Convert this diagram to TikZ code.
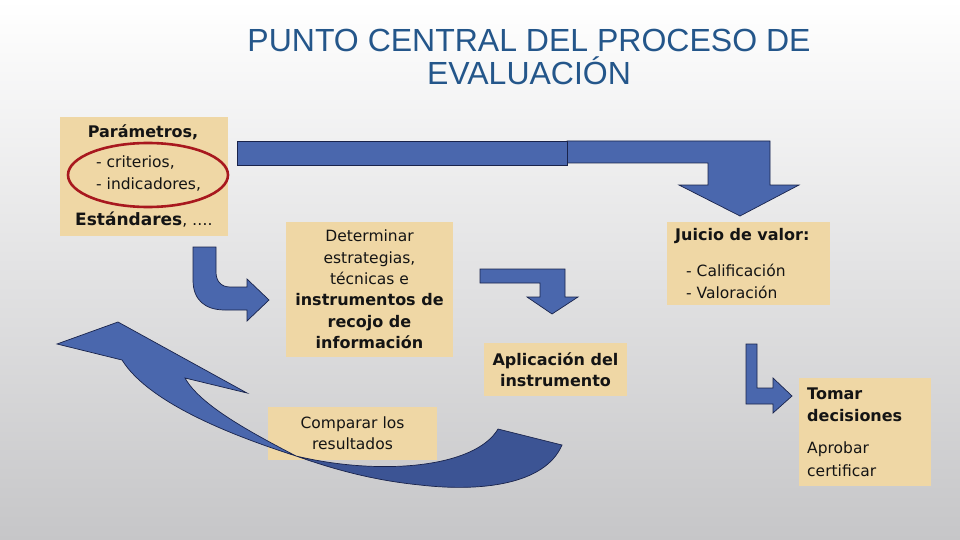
\documentclass[tikz,border=0pt]{standalone}
\usepackage{fontspec}
\setmainfont{DejaVu Sans}
\newfontfamily\titlefont{Liberation Sans}
\usetikzlibrary{shapes.geometric}
\definecolor{boxfill}{RGB}{239,215,165}
\definecolor{arrowblue}{RGB}{74,103,173}
\definecolor{arrowdark}{RGB}{60,84,148}
\definecolor{arrowline}{RGB}{25,35,75}
\definecolor{titleblue}{RGB}{36,86,138}
\definecolor{ringred}{RGB}{168,24,30}
\definecolor{bgbottom}{RGB}{198,198,200}
\definecolor{ink}{RGB}{20,20,20}
\tikzset{
  tanbox/.style={fill=boxfill, draw=none, inner sep=0pt},
  blockarrow/.style={fill=arrowblue, draw=arrowline, line width=0.7pt, line join=miter},
  darkarrow/.style={fill=arrowdark, draw=arrowline, line width=0.7pt, line join=miter},
  rt/.style={font=\fontsize{15.5}{21.4}\selectfont, text=ink, inner sep=0pt},
  bt/.style={font=\fontsize{16}{21.4}\selectfont\bfseries, text=ink, inner sep=0pt},
}
\begin{document}
\begin{tikzpicture}[x=1pt,y=-1pt]
\useasboundingbox (0,0) rectangle (960,540);
\fill[top color=white, bottom color=bgbottom] (0,0) rectangle (960,540);

% title
\node[font=\titlefont\fontsize{32}{33}\selectfont, text=titleblue, align=center, inner sep=0pt] (title) at (529,56.5)
  {PUNTO CENTRAL DEL PROCESO DE\\EVALUACIÓN};

% boxes
\node[tanbox, minimum width=168pt, minimum height=119pt] (param) at (144,176.5) {};
\node[bt] (p1) at (143,132) {Parámetros,};
\node[rt, anchor=west] (p2) at (96,163) {- criterios,};
\node[rt, anchor=west] (p3) at (96,185) {- indicadores,};
\node[inner sep=0pt, text=ink, anchor=west] (p4) at (75,220) {\fontsize{17}{20}\selectfont\bfseries Estándares\mdseries\fontsize{15.5}{20}\selectfont, ….};
\node[draw=ringred, line width=2.6pt, ellipse, minimum width=160pt, minimum height=64pt, inner sep=0pt] (ring) at (148,175) {};

\node[tanbox, minimum width=167pt, minimum height=135pt, align=center, rt] (estr) at (369.5,289.5)
  {Determinar\\estrategias,\\técnicas e\\\textbf{\fontsize{16}{21.4}\selectfont instrumentos de}\\\textbf{\fontsize{16}{21.4}\selectfont recojo de}\\\textbf{\fontsize{16}{21.4}\selectfont información}};

\node[tanbox, minimum width=163pt, minimum height=83pt] (juicio) at (748.5,263.5) {};
\node[bt, anchor=west] (j1) at (675,236) {Juicio de valor:};
\node[rt, anchor=west] (j2) at (686,270) {- Calificación};
\node[rt, anchor=west] (j3) at (686,292) {- Valoración};

\node[tanbox, minimum width=143pt, minimum height=53pt, align=center, bt] (aplic) at (555.5,369.5)
  {Aplicación del\\instrumento};

\node[tanbox, minimum width=169pt, minimum height=53pt, align=center, rt] (comp) at (352.5,433.5)
  {Comparar los\\resultados};

\node[tanbox, minimum width=132pt, minimum height=108pt] (tomar) at (865,432) {};
\node[bt, anchor=west] (t1) at (807,394) {Tomar};
\node[bt, anchor=west] (t2) at (807,416) {decisiones};
\node[rt, anchor=west] (t3) at (807,449) {Aprobar};
\node[rt, anchor=west] (t4) at (807,471) {certificar};

% top bent arrow
\draw[blockarrow] (567,141) -- (770,141) -- (770,185) -- (799,185) -- (740,216) -- (679,185)
  -- (708,185) -- (708,163) -- (567,163) -- cycle;
\draw[blockarrow] (237,141) rectangle (567,165);

% small curved arrow
\draw[blockarrow] (193,247) -- (193,280) .. controls (193,300) and (205,310) .. (225,310)
  -- (247,310) -- (247,321) -- (269,300) -- (247,279) -- (247,287) -- (230,287)
  .. controls (221,287) and (216,281) .. (216,272) -- (216,247) -- cycle;

% middle bent arrow
\draw[blockarrow] (480,269) -- (565,269) -- (565,297) -- (578,297) -- (552,314) -- (527,297)
  -- (540,297) -- (540,283) -- (480,283) -- cycle;

% lower right L arrow
\draw[blockarrow] (746,344) -- (757,344) -- (757,388) -- (773,388) -- (773,378) -- (792,396)
  -- (773,413) -- (773,404) -- (746,404) -- cycle;

% big curved return arrow
\draw[darkarrow] (296,456) .. controls (380,476) and (475,468) .. (498,429) -- (562,445)
  .. controls (545,485) and (480,492) .. (420,485) .. controls (370,480) and (330,468) .. (296,456) -- cycle;
\draw[blockarrow] (57,344) -- (118,322) -- (247,393) -- (185,378)
  .. controls (200,405) and (250,432) .. (296,456)
  .. controls (240,438) and (150,405) .. (122,360) -- cycle;
\end{tikzpicture}
\end{document}
